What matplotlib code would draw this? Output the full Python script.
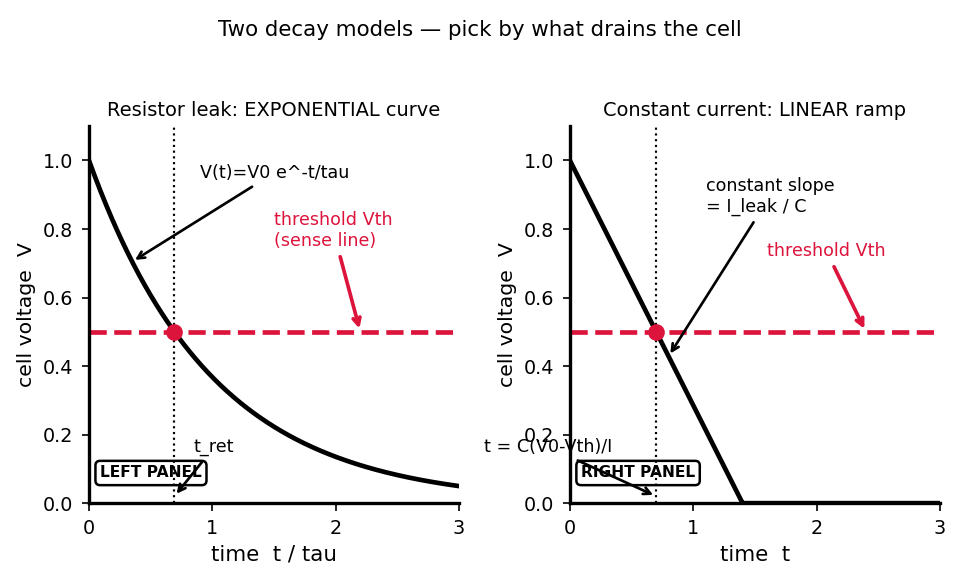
import numpy as np
import matplotlib
matplotlib.use("Agg")
import matplotlib.pyplot as plt

# data
v0 = 1.0
vth = 0.5
tau = 1.0
t_lin_zero = 1.4          # time where the linear ramp hits 0
t = np.linspace(0, 3, 400)

v_exp = v0 * np.exp(-t / tau)
v_lin = np.clip(v0 - v0 * t / t_lin_zero, 0, None)

t_ret_exp = tau * np.log(v0 / vth)
t_ret_lin = (v0 - vth) * t_lin_zero / v0

RED = "crimson"

plt.rcParams["font.family"] = ["DejaVu Sans"]
fig, axes = plt.subplots(1, 2, figsize=(8, 4.825), dpi=120)
fig.subplots_adjust(left=0.0927, right=0.979, bottom=0.131, top=0.782, wspace=0.3)
fig.suptitle("Two decay models \u2014 pick by what drains the cell", fontsize=12.8, y=0.965)

for ax in axes:
    ax.set_xlim(0, 3)
    ax.set_ylim(0, 1.1)
    ax.spines["top"].set_visible(False)
    ax.spines["right"].set_visible(False)
    ax.spines["left"].set_linewidth(2)
    ax.spines["bottom"].set_linewidth(2)
    ax.tick_params(labelsize=11.5, length=4.5, width=1, pad=5)
    ax.set_xticks([0, 1, 2, 3])
    ax.set_yticks([0, 0.2, 0.4, 0.6, 0.8, 1.0])
    ax.set_ylabel("cell voltage  V", fontsize=12.2)
    ax.axhline(vth, color=RED, lw=2.8, ls="--")

# ---- left: exponential
ax = axes[0]
ax.text(0.03, 0.08, "LEFT PANEL", transform=ax.transAxes, fontsize=9.3,
        fontweight="bold", va="center", zorder=2,
        bbox=dict(boxstyle="round,pad=0.3", fc="white", ec="black", lw=1.5))
ax.plot(t, v_exp, color="black", lw=2.8)
ax.axvline(t_ret_exp, color="black", lw=1.3, ls=":")
ax.plot([t_ret_exp], [vth], "o", color=RED, ms=9)
ax.set_title("Resistor leak: EXPONENTIAL curve", fontsize=11.6)
ax.set_xlabel("time  t / tau", fontsize=12.8)
ax.annotate("V(t)=V0 e^-t/tau", xy=(0.35, np.exp(-0.35)), xytext=(0.9, 0.95),
            fontsize=10.5, arrowprops=dict(arrowstyle="->", color="black", lw=1.6))
ax.annotate("threshold Vth\n(sense line)", xy=(2.2, vth), xytext=(1.5, 0.75),
            fontsize=10.5, color=RED,
            arrowprops=dict(arrowstyle="->", color=RED, lw=2.2))
ax.annotate("t_ret", xy=(t_ret_exp, 0.02), xytext=(0.85, 0.15), fontsize=10.5,
            zorder=4, arrowprops=dict(arrowstyle="->", color="black", lw=1.6))

# ---- right: linear
ax = axes[1]
ax.text(0.03, 0.08, "RIGHT PANEL", transform=ax.transAxes, fontsize=9.3,
        fontweight="bold", va="center", zorder=2,
        bbox=dict(boxstyle="round,pad=0.3", fc="white", ec="black", lw=1.5))
ax.plot(t, v_lin, color="black", lw=2.8)
ax.axvline(t_ret_lin, color="black", lw=1.3, ls=":")
ax.plot([t_ret_lin], [vth], "o", color=RED, ms=9)
ax.set_title("Constant current: LINEAR ramp", fontsize=11.6)
ax.set_xlabel("time  t", fontsize=12.8)
ax.annotate("constant slope\n= I_leak / C", xy=(0.8, 1 - 0.8 / t_lin_zero),
            xytext=(1.1, 0.85), fontsize=10.5,
            arrowprops=dict(arrowstyle="->", color="black", lw=1.6))
ax.annotate("threshold Vth", xy=(2.4, vth), xytext=(1.6, 0.72),
            fontsize=10.5, color=RED,
            arrowprops=dict(arrowstyle="->", color=RED, lw=2.2))
ax.annotate("t = C(V0-Vth)/I", xy=(t_ret_lin, 0.02), xytext=(-0.7, 0.15),
            fontsize=10.5, annotation_clip=False, zorder=4,
            arrowprops=dict(arrowstyle="->", color="black", lw=1.6))

fig.savefig("out.png", dpi=120)
